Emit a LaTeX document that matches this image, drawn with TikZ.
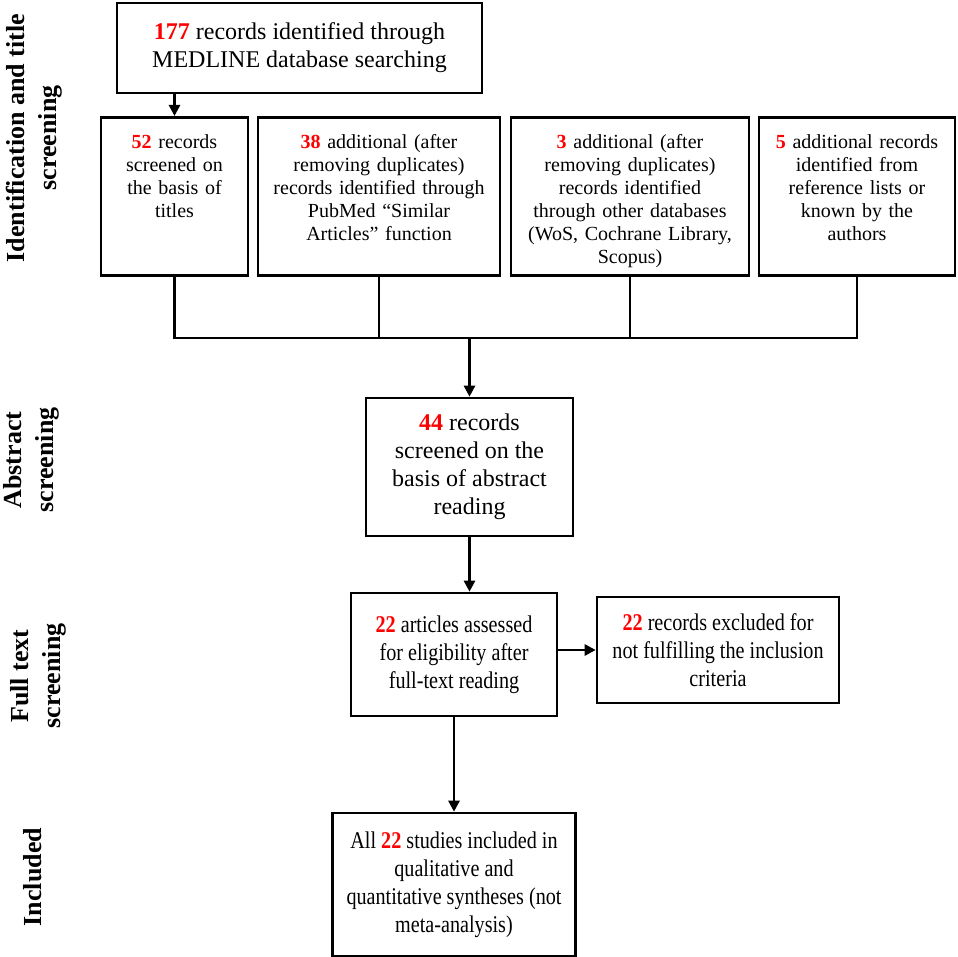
\documentclass[tikz,border=0pt]{standalone}
\usepackage{fontspec}
\setmainfont{Liberation Serif}
\newfontfamily\narrowfont[FakeStretch=0.84]{Liberation Serif}
\usetikzlibrary{positioning}
\usetikzlibrary{calc}
\usetikzlibrary{arrows.meta}

\begin{document}
\begin{tikzpicture}[x=1pt,y=-1pt]
		\tikzset{
			box/.style={draw=black,line width=2.6pt,align=center,inner sep=4pt},
		}
		\tikzset{
			rowbox/.style={box,anchor=north,text height=27pt,text depth=123pt,font=\fontsize{20}{23}\selectfont},
		}
		\tikzset{
			lowbox/.style={box,font=\narrowfont\fontsize{24}{28}\selectfont},
		}
		\tikzset{
			phase/.style={rotate=90,align=center,font=\fontsize{26}{32}\selectfont\bfseries},
		}
		\tikzset{
			edge/.style={color=black,line width=2.6pt},
		}
		\tikzset{
			arr/.style={-{Triangle[length=11pt,width=11pt]}},
		}
		\newcommand{\cnt}[1]{\textcolor{red}{\textbf{#1}}}
		
		\useasboundingbox (0,0) rectangle (957,957);
		
		\node[phase] (phId) at (34,138) {Identification and title\\screening};
		\node[phase] (phAbs) at (31,460) {Abstract\\screening};
		\node[phase] (phFull) at (38,676) {Full text\\screening};
		\node[phase] (phIncl) at (33,877) {Included};
		
		\node[box,minimum width=365pt,minimum height=90pt,font=\fontsize{24}{28}\selectfont] (medline) at (299.5,48) {\cnt{177} records identified through\\MEDLINE database searching};
		
		\node[rowbox,text width=139pt] (titles) at (174.5,116) {\cnt{52} records\\screened on\\the basis of\\titles};
		\node[rowbox,text width=234pt] (pubmed) at (379,116) {\cnt{38} additional (after\\removing duplicates)\\records identified through\\PubMed “Similar\\Articles” function};
		\node[rowbox,text width=230pt] (otherdb) at (630,116) {\cnt{3} additional (after\\removing duplicates)\\records identified\\through other databases\\(WoS, Cochrane Library,\\Scopus)};
		\node[rowbox,text width=188pt] (reflist) at (857,116) {\cnt{5} additional records\\identified from\\reference lists or\\known by the\\authors};
		
		\node[box,minimum width=207pt,minimum height=138pt,font=\fontsize{24}{28}\selectfont] (abstr) at (469.5,467) {\cnt{44} records\\screened on the\\basis of abstract\\reading};
		\node[lowbox,minimum width=206pt,minimum height=123pt] (full) at (454,654.5) {\cnt{22} articles assessed\\for eligibility after\\full-text reading};
		\node[lowbox,minimum width=242pt,minimum height=106pt] (excl) at (718,650) {\cnt{22} records excluded for\\not fulfilling the inclusion\\criteria};
		\node[lowbox,minimum width=243pt,minimum height=143pt] (incl) at (454,884.5) {All \cnt{22} studies included in\\qualitative and\\quantitative syntheses (not\\meta-analysis)};
		
		\coordinate (join) at (469.5,338);
		
		\draw[arr,edge] (medline.south -| titles.north) to (titles.north);
		\draw[edge] (titles.south) |- (join) -| (reflist.south);
		\draw[edge] (pubmed.south) to (pubmed.south |- join);
		\draw[edge] (otherdb.south) to (otherdb.south |- join);
		\draw[arr,edge] (join) to (abstr.north);
		\draw[arr,edge] (abstr.south) to (abstr.south |- full.north);
		\draw[arr,edge] (full.east |- excl.west) to (excl.west);
		\draw[arr,edge] (full.south) to (incl.north);
	\end{tikzpicture}
\end{document}
